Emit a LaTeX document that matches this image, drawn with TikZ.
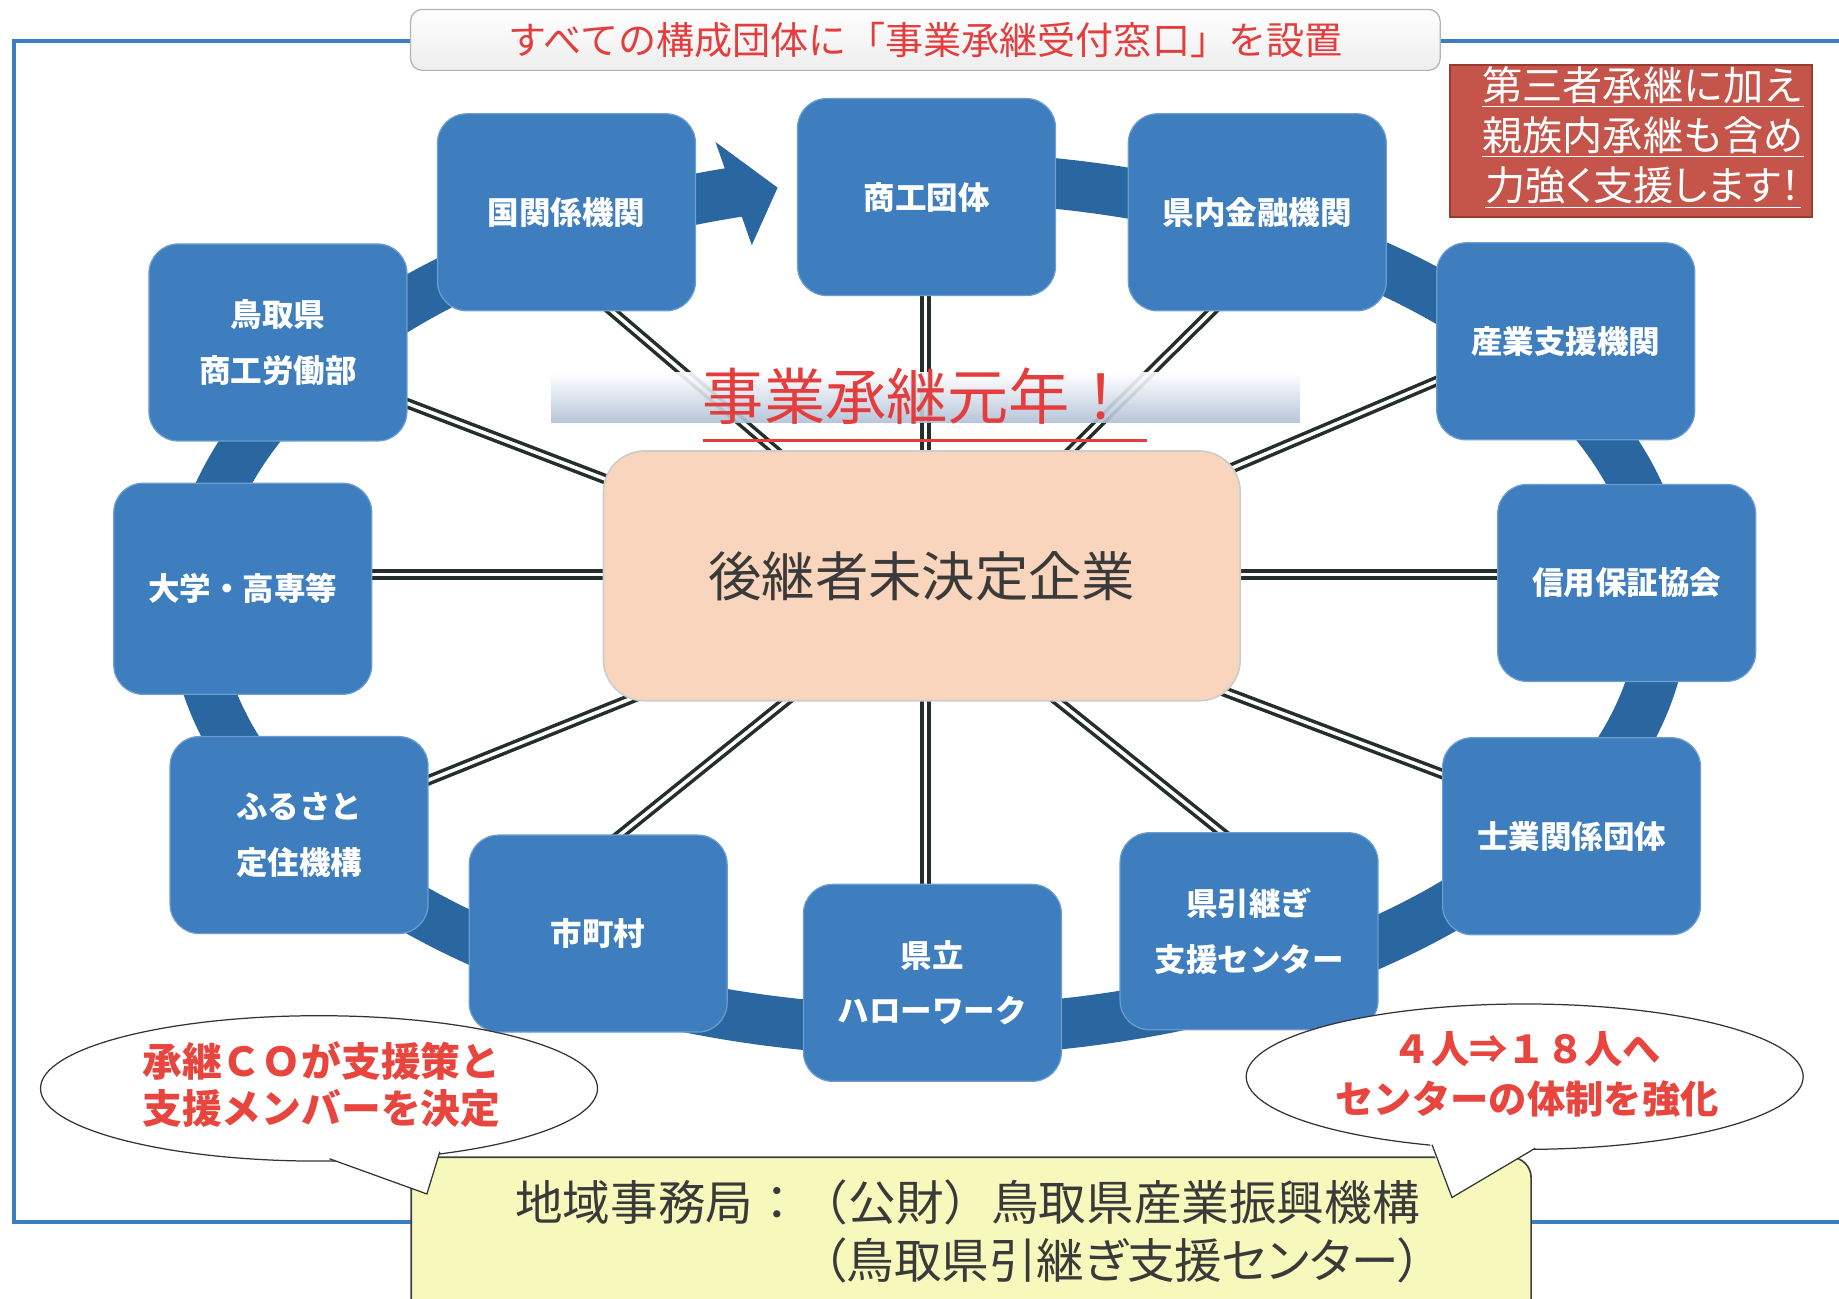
\documentclass[tikz,border=0pt]{standalone}
\usepackage{fontspec}
\setmainfont{Noto Sans CJK JP}
\usetikzlibrary{arrows.meta,shapes.geometric,calc}
\pgfdeclarelayer{background}
\pgfsetlayers{background,main}
\definecolor{boxblue}{HTML}{3E7EBF}
\definecolor{boxedge}{HTML}{6A9DD0}
\definecolor{bandblue}{HTML}{2A66A0}
\definecolor{peach}{HTML}{F9D5BD}
\definecolor{frameblue}{HTML}{3C7DC4}
\definecolor{redtxt}{HTML}{E43D3D}
\definecolor{bubred}{HTML}{E8453E}
\definecolor{redbox}{HTML}{C5554B}
\definecolor{redboxdark}{HTML}{9C3A32}
\definecolor{yel}{HTML}{F6F8BC}
\definecolor{dline}{HTML}{23302A}
\definecolor{graytxt}{HTML}{3A3A3A}
\definecolor{barblue}{HTML}{AFC0D6}
\begin{document}
\begin{tikzpicture}[x=0.02cm,y=-0.02cm,
  org/.style={draw=boxedge, line width=0.6pt, fill=boxblue, rounded corners=0.5cm,
    minimum width=4.4cm, minimum height=3.36cm, text=white,
    font=\fontsize{15.3}{27}\selectfont\bfseries, align=center, inner sep=0pt},
  dbl/.style={draw=dline, line width=0.06cm, double=white, double distance=0.06cm},
  bubble/.style={draw=black!80, line width=0.6pt, fill=white, ellipse,
    minimum width=9.5cm, minimum height=2.48cm, inner sep=0pt},
  bubtext/.style={text=bubred, align=center, inner sep=0pt},
]
\useasboundingbox (0,0) rectangle (1568,1107);

% organisation boxes
\node[org] (kuni) at (483,181) {国関係機関};
\node[org] (shoko) at (790,168) {商工団体};
\node[org] (kinyu) at (1072,181) {県内金融機関};
\node[org] (sangyo) at (1335,291) {産業支援機関};
\node[org] (shinyo) at (1387,497) {信用保証協会};
\node[org] (shigyo) at (1340,713) {士業関係団体};
\node[org] (hiki) at (1065,794) {県引継ぎ\\支援センター};
\node[org] (hello) at (795,838) {県立\\ハローワーク};
\node[org] (shicho) at (510,796) {市町村};
\node[org] (furu) at (255,712) {ふるさと\\定住機構};
\node[org, minimum height=3.6cm] (daigaku) at (207,502) {大学・高専等};
\node[org] (tottori) at (237,292) {鳥取県\\商工労働部};

% central company box
\node[draw=black!20, line width=0.8pt, fill=peach, rounded corners=0.7cm,
  minimum width=10.86cm, minimum height=4.26cm, text=graytxt,
  font=\fontsize{25.9}{28}\selectfont] (hub) at (786,491) {後継者未決定企業};

\begin{pgfonlayer}{background}
  % outer frame
  \draw[frameblue, line width=0.07cm] (1590,35) -- (12,35) -- (12,1042) -- (1590,1042);
  % cycle band
  \draw[bandblue, line width=0.86cm] plot[domain=262:616, samples=200, smooth]
     ({792+627*cos(\x)},{515+364*sin(\x)});
  \fill[bandblue] (610,121) -- (663,160) -- (641,209) -- cycle;
  % double connectors
  \draw[dbl] ([shift={(8,58)}]kuni.center) -- ([shift={(-83,-71)}]hub.center);
  \draw[dbl] ([shift={(-1,32)}]shoko.center) -- ([shift={(3,-71)}]hub.center);
  \draw[dbl] ([shift={(-12,58)}]kinyu.center) -- ([shift={(91,-71)}]hub.center);
  \draw[dbl] ([shift={(-75,19)}]sangyo.center) -- ([shift={(227,-76)}]hub.center);
  \draw[dbl] ([shift={(-67,-7)}]shinyo.center) -- ([shift={(214,-1)}]hub.center);
  \draw[dbl] ([shift={(-73,-39)}]shigyo.center) -- ([shift={(222,85)}]hub.center);
  \draw[dbl] ([shift={(2,-64)}]hiki.center) -- ([shift={(105,98)}]hub.center);
  \draw[dbl] ([shift={(-6,-38)}]hello.center) -- ([shift={(3,69)}]hub.center);
  \draw[dbl] ([shift={(-4,-66)}]shicho.center) -- ([shift={(-105,98)}]hub.center);
  \draw[dbl] ([shift={(81,-35)}]furu.center) -- ([shift={(-229,97)}]hub.center);
  \draw[dbl] ([shift={(73,-12)}]daigaku.center) -- ([shift={(-226,-1)}]hub.center);
  \draw[dbl] ([shift={(87,43)}]tottori.center) -- ([shift={(-232,-68)}]hub.center);
\end{pgfonlayer}

% banner 事業承継元年
\shade[top color=white, bottom color=barblue, opacity=0.9] (470,318) rectangle (1108,360);
\node[text=redtxt, font=\fontsize{29.7}{31}\selectfont, inner sep=0pt] (title) at (782,338) {事業承継元年！};
\draw[redtxt, line width=0.05cm] ($(title.south west)+(0,13)$) -- ($(title.south east)+(13,13)$);

% top banner
\node[draw=black!30, line width=0.6pt, rounded corners=0.2cm, top color=white, bottom color=black!7,
  minimum width=17.56cm, minimum height=1.04cm, text=redtxt,
  font=\fontsize{18.5}{20}\selectfont] (banner) at (789,34) {すべての構成団体に「事業承継受付窓口」を設置};

% red box
\node[fill=redbox, draw=redboxdark, line width=1pt, minimum width=6.18cm, minimum height=2.6cm] (redb) at (1390.5,120) {};
\node[text=white, align=center, font=\fontsize{19.5}{24.4}\selectfont, inner sep=0pt] (redtext) at (1401,117)
  {\underline{第三者承継に加え}\\\underline{親族内承継も含め}\\\underline{\addfontfeatures{RawFeature=+palt}力強く支援します！}};

% regional office box
\node[draw=black!75, line width=0.8pt, fill=yel, rounded corners=0.35cm,
  minimum width=19.1cm, minimum height=3cm, anchor=north west] (office) at (350,986) {};
\node[text=graytxt, font=\fontsize{23.1}{25}\selectfont, inner sep=0pt] (offa) at (825,1025)
  {地域事務局：（公財）鳥取県産業振興機構};
\node[text=graytxt, font=\fontsize{23.1}{25}\selectfont\addfontfeatures{RawFeature=+palt}, inner sep=0pt] (offb) at (957,1075)
  {（鳥取県引継ぎ支援センター）};

% speech bubbles
\node[bubble] (bubl) at (272,928) {};
\fill[white] (279,987) -- (364,1018) -- (376,980) -- (330,970) -- cycle;
\draw[black!80, line width=0.6pt] (281,988) -- (364,1018) -- (375,982);
\node[bubtext, font=\fontsize{19.3}{22.7}\selectfont\bfseries] (bubltext) at (274,925)
  {承継ＣＯが支援策と\\支援メンバーを決定};

\node[bubble] (bubr) at (1300,918) {};
\fill[white] (1219,975) -- (1238,1021) -- (1311,978) -- (1260,965) -- cycle;
\draw[black!80, line width=0.6pt] (1221,976) -- (1238,1021) -- (1309,979);
\node[bubtext, font=\fontsize{18.6}{24.4}\selectfont\bfseries] (bubrtext) at (1302,916)
  {４人⇒１８人へ\\センターの体制を強化};
\end{tikzpicture}
\end{document}
